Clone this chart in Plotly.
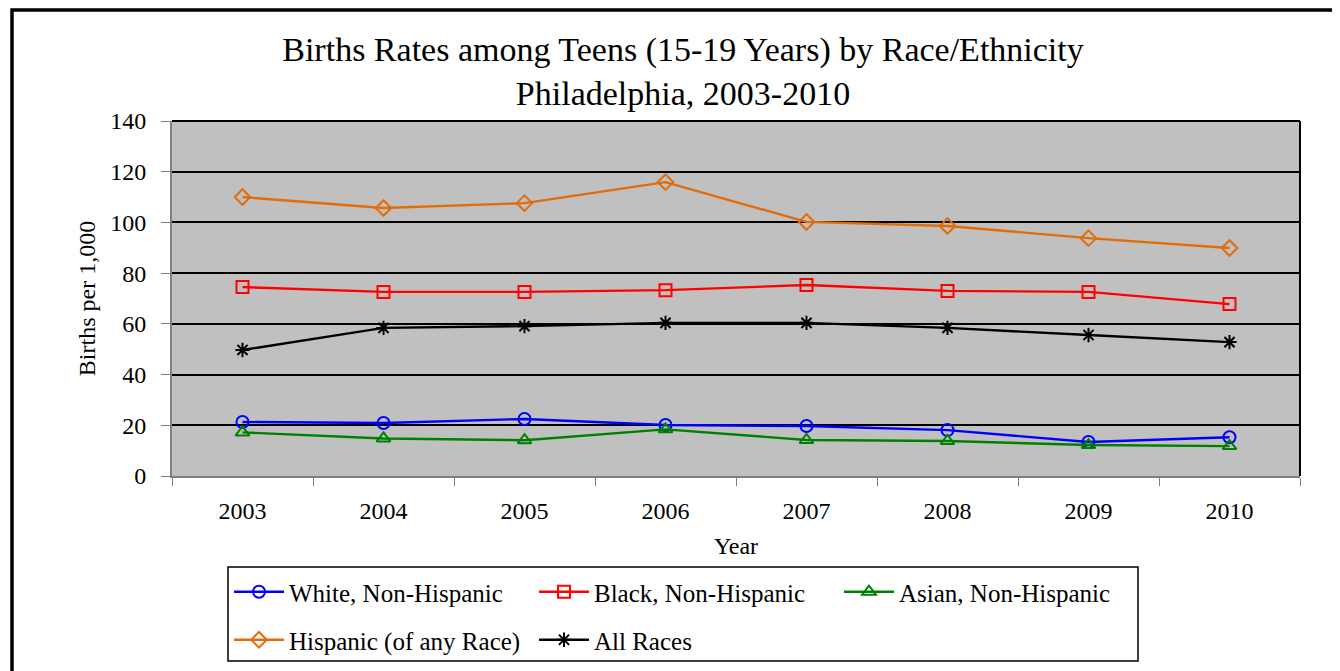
import plotly.graph_objects as go

years = ["2003", "2004", "2005", "2006", "2007", "2008", "2009", "2010"]
white = [21.3, 20.9, 22.5, 20.1, 19.7, 18.1, 13.4, 15.3]
black = [74.5, 72.6, 72.6, 73.3, 75.3, 73.0, 72.6, 67.8]
asian = [17.2, 14.8, 14.1, 18.4, 14.2, 13.8, 12.2, 11.8]
hispanic = [110.0, 105.7, 107.6, 115.9, 100.2, 98.6, 93.8, 89.9]
all_races = [49.7, 58.4, 59.1, 60.4, 60.4, 58.4, 55.6, 52.8]

series = [
    ("White, Non-Hispanic", white, "#0000FF", "circle-open", "legend"),
    ("Black, Non-Hispanic", black, "#FF0000", "square-open", "legend"),
    ("Asian, Non-Hispanic", asian, "#008000", "triangle-up-open", "legend"),
    ("Hispanic (of any Race)", hispanic, "#E36C0A", "diamond-open", "legend2"),
    ("All Races", all_races, "#000000", "asterisk-open", "legend2"),
]

FONT = "Liberation Serif"
OFF = 8  # page offset of the plot div

W, H = 1332, 663
L, T = 164, 113
PW, PH = 1128, 355
R = W - L - PW
B = H - T - PH


def px_x(p):
    return (p - OFF - L) / PW


def px_y(p):
    return (T + PH - (p - OFF)) / PH


fig = go.Figure()
for name, vals, color, sym, leg in series:
    fig.add_trace(go.Scatter(
        x=years, y=vals, name=name, mode="lines+markers", legend=leg,
        line=dict(color=color, width=2.4),
        marker=dict(symbol=sym, size=12, color=color, line=dict(color=color, width=2)),
    ))

leg_common = dict(
    orientation="h", xanchor="left", yanchor="middle",
    bgcolor="rgba(0,0,0,0)", borderwidth=0,
    font=dict(family=FONT, size=25, color="black"),
    entrywidth=240, entrywidthmode="pixels", itemwidth=50,
)

fig.update_layout(
    width=W, height=H,
    margin=dict(l=L, r=R, t=T, b=B, autoexpand=False),
    paper_bgcolor="white",
    plot_bgcolor="#C0C0C0",
    font=dict(family=FONT, size=24, color="black"),
    title=dict(
        text="Births Rates among Teens (15-19 Years) by Race/Ethnicity<br>Philadelphia, 2003-2010",
        xref="container", yref="container",
        x=(683 - OFF) / W, xanchor="center", y=1 - (61 - OFF) / H, yanchor="middle",
        font=dict(family=FONT, size=34, color="black"),
    ),
    xaxis=dict(
        title=dict(text="Year", font=dict(size=24), standoff=14),
        range=[-0.5, 7.5],
        showgrid=False, tickson="boundaries", ticks="outside", ticklen=8,
        tickcolor="#808080", showline=True, linecolor="#808080", linewidth=2,
        zeroline=False, tickfont=dict(size=24), ticklabelstandoff=12,
        automargin=False,
    ),
    yaxis=dict(
        title=dict(text="Births per 1,000", font=dict(size=24), standoff=8),
        range=[0, 140], dtick=20, showgrid=True, gridcolor="black", gridwidth=2,
        ticks="outside", ticklen=9, tickcolor="#808080",
        showline=True, linecolor="#808080", linewidth=2, zeroline=False,
        tickfont=dict(size=24), ticklabelstandoff=10, automargin=False,
    ),
    legend=dict(x=px_x(229), y=px_y(592), **leg_common),
    legend2=dict(x=px_x(229), y=px_y(640), **leg_common),
    shapes=[
        dict(type="rect", xref="paper", yref="paper",
             x0=px_x(12), x1=px_x(1400), y0=px_y(760), y1=px_y(10),
             line=dict(color="black", width=3.5), layer="below"),
        dict(type="rect", xref="paper", yref="paper",
             x0=px_x(228), x1=px_x(1138), y0=px_y(661), y1=px_y(567),
             line=dict(color="black", width=1.5), fillcolor="white", layer="below"),
        dict(type="line", xref="paper", yref="paper",
             x0=1, x1=1, y0=0, y1=1, line=dict(color="black", width=2)),
        dict(type="line", xref="paper", yref="paper",
             x0=0, x1=1, y0=1, y1=1, line=dict(color="black", width=2)),
    ],
)

fig.write_html("out.html")
